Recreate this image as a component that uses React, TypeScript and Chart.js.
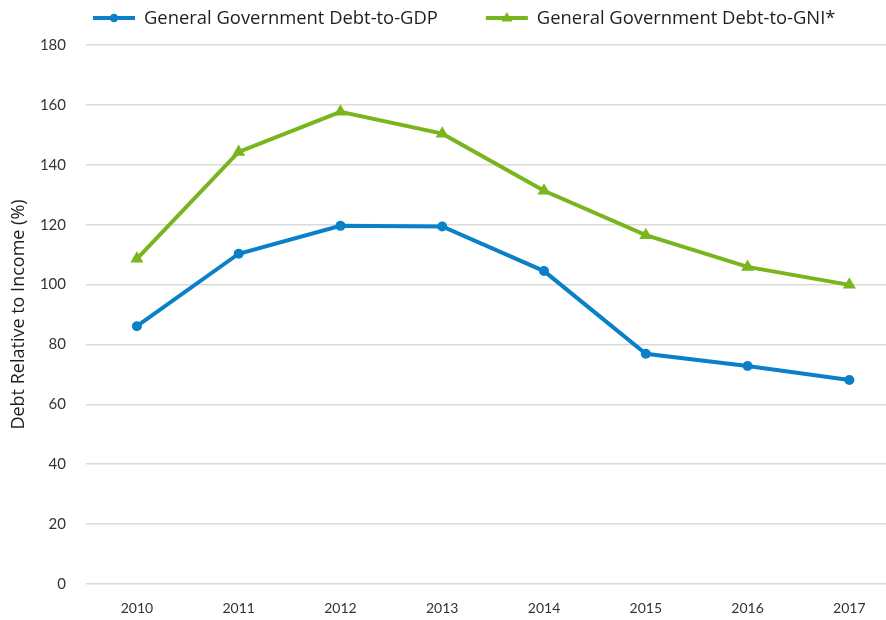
import React, { useEffect, useRef } from "react";
import { Chart, registerables } from "chart.js";

Chart.register(...registerables);

const years = [2010, 2011, 2012, 2013, 2014, 2015, 2016, 2017];
const debtToGDP = [86.1, 110.3, 119.6, 119.4, 104.5, 76.9, 72.8, 68.1];
const debtToGNI = [108.6, 144.3, 157.7, 150.4, 131.3, 116.5, 105.9, 99.9];
const seriesNames = ["General Government Debt-to-GDP", "General Government Debt-to-GNI*"];
const yTicks = [0, 20, 40, 60, 80, 100, 120, 140, 160, 180];

const BLUE = "#0a80c8";
const GREEN = "#79b51c";

const legendPlugin = {
  id: "lineLegend",
  afterDraw(chart: any) {
    const ctx = chart.ctx;
    const left = chart.chartArea.left;
    ctx.save();
    ctx.font = '18.4px "Open Sans"';
    ctx.textBaseline = "middle";
    ctx.textAlign = "left";
    let x = left + 7;
    const y = 18;
    chart.data.datasets.forEach((ds: any) => {
      ctx.strokeStyle = ds.borderColor;
      ctx.fillStyle = ds.borderColor;
      ctx.lineWidth = 4;
      ctx.beginPath();
      ctx.moveTo(x, y);
      ctx.lineTo(x + 42, y);
      ctx.stroke();
      const cx = x + 21;
      ctx.beginPath();
      if (ds.pointStyle === "triangle") {
        ctx.moveTo(cx, y - 6);
        ctx.lineTo(cx + 5.5, y + 3.5);
        ctx.lineTo(cx - 5.5, y + 3.5);
        ctx.closePath();
      } else {
        ctx.arc(cx, y, 4.2, 0, Math.PI * 2);
      }
      ctx.fill();
      ctx.fillStyle = "#1e1e1e";
      const tx = x + 42 + 9;
      ctx.fillText(ds.label, tx, y + 1);
      x = tx + ctx.measureText(ds.label).width + 48;
    });
    ctx.restore();
  },
};

export default function App() {
  const ref = useRef<HTMLCanvasElement>(null);
  useEffect(() => {
    if (!ref.current) return;
    const chart = new Chart(ref.current, {
      type: "line",
      data: {
        datasets: [
          {
            label: seriesNames[0],
            data: years.map((yr, i) => ({ x: yr, y: debtToGDP[i] })),
            borderColor: BLUE,
            backgroundColor: BLUE,
            borderWidth: 4,
            pointStyle: "circle",
            pointRadius: 5,
            pointBorderWidth: 0,
            pointBackgroundColor: BLUE,
            tension: 0,
          },
          {
            label: seriesNames[1],
            data: years.map((yr, i) => ({ x: yr, y: debtToGNI[i] })),
            borderColor: GREEN,
            backgroundColor: GREEN,
            borderWidth: 4,
            pointStyle: "triangle",
            pointRadius: 7.5,
            pointBorderWidth: 0,
            pointBackgroundColor: GREEN,
            tension: 0,
          },
        ],
      },
      options: {
        animation: false,
        responsive: false,
        maintainAspectRatio: false,
        layout: { autoPadding: false, padding: { top: 45, left: 8, right: 0, bottom: 2 } },
        plugins: { legend: { display: false }, tooltip: { enabled: false } },
        scales: {
          x: {
            type: "linear",
            min: 2009.5,
            max: 2017.36,
            afterBuildTicks: (scale: any) => {
              scale.ticks = years.map((v) => ({ value: v }));
            },
            afterFit: (scale: any) => {
              scale.height = 34;
              scale.paddingLeft = 0;
              scale.paddingRight = 0;
            },
            grid: { display: false, drawTicks: false },
            border: { display: false },
            ticks: {
              autoSkip: false,
              maxRotation: 0,
              padding: 16,
              color: "#333333",
              font: { family: "Lato", size: 14 },
              callback: (v: any) => String(v),
            },
          },
          y: {
            min: 0,
            max: 180,
            afterBuildTicks: (scale: any) => {
              scale.ticks = yTicks.map((v) => ({ value: v }));
            },
            afterFit: (scale: any) => {
              scale.width = 78;
            },
            grid: { color: "#d9d9d9", lineWidth: 1.5, drawTicks: false },
            border: { display: false },
            ticks: {
              padding: 20,
              color: "#333333",
              font: { family: "Lato", size: 15 },
            },
            title: {
              display: true,
              text: "Debt Relative to Income (%)",
              color: "#1e1e1e",
              font: { family: "Open Sans", size: 18 },
              padding: { top: 0, bottom: 0 },
            },
          },
        },
      },
      plugins: [legendPlugin],
    });
    return () => chart.destroy();
  }, []);
  return (
    <div style={{ position: "absolute", left: 0, top: 0, width: 886, height: 620, background: "#fff" }}>
      <canvas ref={ref} width={886} height={620} />
    </div>
  );
}
